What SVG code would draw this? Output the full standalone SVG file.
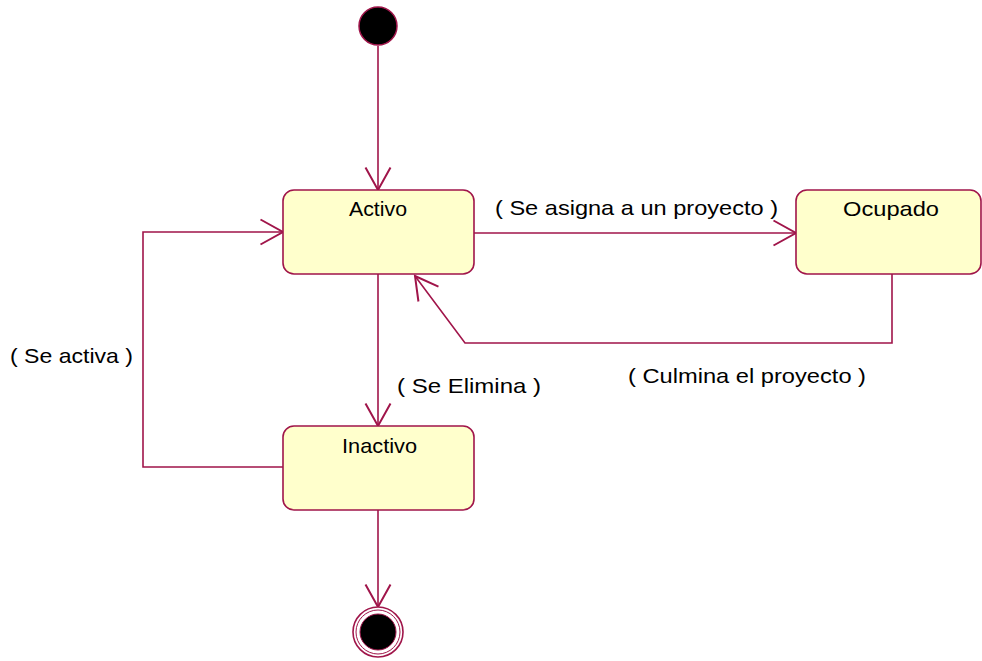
<svg xmlns="http://www.w3.org/2000/svg" width="982" height="661" viewBox="0 0 982 661">
<defs>
<style>
.st{fill:#ffffcc;stroke:#a0154a;stroke-width:1.6}
.ln{fill:none;stroke:#a0154a;stroke-width:1.6}
.t{font-family:"Liberation Sans",Arial,sans-serif;font-size:21px;fill:#000}
</style>
<marker id="ar" markerUnits="userSpaceOnUse" markerWidth="30" markerHeight="30" viewBox="-20 -12 22 24" refX="0" refY="0" orient="auto">
<path d="M-18,-10 L0,0 L-18,10" fill="none" stroke="#a0154a" stroke-width="1.6"/>
</marker>
</defs>
<rect width="982" height="661" fill="#fff"/>
<g id="connectors">
<line class="ln" x1="378" y1="46" x2="378" y2="190" marker-end="url(#ar)"/>
<line class="ln" x1="474" y1="233" x2="796" y2="233" marker-end="url(#ar)"/>
<polyline class="ln" points="892,274 892,343 465,343 415,276" marker-end="url(#ar)"/>
<line class="ln" x1="378" y1="274" x2="378" y2="426" marker-end="url(#ar)"/>
<polyline class="ln" points="283,467 143,467 143,232 283,232" marker-end="url(#ar)"/>
<line class="ln" x1="378" y1="510" x2="378" y2="607" marker-end="url(#ar)"/>
<text class="t" x="495" y="215" textLength="283" lengthAdjust="spacingAndGlyphs">( Se asigna a un proyecto )</text>
<text class="t" x="628" y="383" textLength="238" lengthAdjust="spacingAndGlyphs">( Culmina el proyecto )</text>
<text class="t" x="10" y="363" textLength="123" lengthAdjust="spacingAndGlyphs">( Se activa )</text>
<text class="t" x="397" y="393" textLength="144" lengthAdjust="spacingAndGlyphs">( Se Elimina )</text>
</g>
<g id="initial">
<circle cx="378" cy="26" r="19" fill="#000" stroke="#a0154a" stroke-width="1.5"/>
</g>
<g id="activo">
<rect class="st" x="283" y="190" width="191" height="84" rx="11"/>
<text class="t" x="349" y="216" textLength="58" lengthAdjust="spacingAndGlyphs">Activo</text>
</g>
<g id="ocupado">
<rect class="st" x="796" y="190" width="185" height="84" rx="11"/>
<text class="t" x="843" y="216" textLength="96" lengthAdjust="spacingAndGlyphs">Ocupado</text>
</g>
<g id="inactivo">
<rect class="st" x="283" y="426" width="191" height="84" rx="11"/>
<text class="t" x="342" y="453" textLength="75" lengthAdjust="spacingAndGlyphs">Inactivo</text>
</g>
<g id="final">
<circle cx="378" cy="632" r="25" fill="#fff" stroke="#a0154a" stroke-width="1.6"/>
<circle cx="378" cy="632" r="22" fill="none" stroke="#a0154a" stroke-width="1"/>
<circle cx="378" cy="632" r="18" fill="#000" stroke="#a0154a" stroke-width="1"/>
</g>
</svg>
